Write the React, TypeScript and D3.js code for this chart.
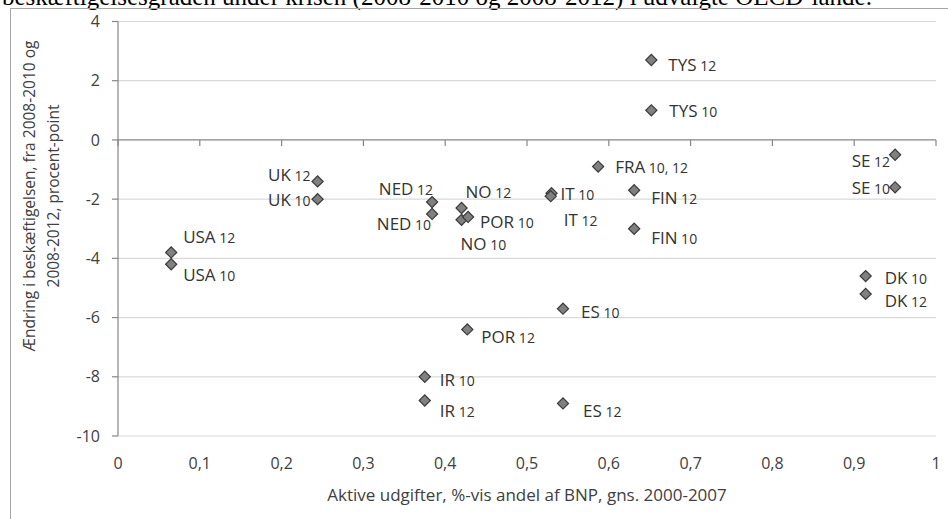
import * as d3 from "d3";

// Points: country, period, active spending (% of GDP), employment change (pct-points)
const pointNames = ["USA", "USA", "UK", "UK", "NED", "NED", "NO", "NO", "POR", "POR", "IR", "IR", "IT", "IT", "FRA", "FIN", "FIN", "TYS", "TYS", "ES", "ES", "SE", "SE", "DK", "DK"];
const pointPeriods = ["10", "12", "10", "12", "10", "12", "10", "12", "10", "12", "10", "12", "10", "12", "10, 12", "12", "10", "10", "12", "10", "12", "12", "10", "10", "12"];
const spendingShare = [0.065, 0.065, 0.244, 0.244, 0.384, 0.384, 0.42, 0.42, 0.428, 0.427, 0.375, 0.375, 0.53, 0.529, 0.587, 0.631, 0.631, 0.652, 0.652, 0.544, 0.544, 0.95, 0.95, 0.914, 0.914];
const employmentChange = [-4.2, -3.8, -2.0, -1.4, -2.5, -2.1, -2.7, -2.3, -2.6, -6.4, -8.0, -8.8, -1.8, -1.9, -0.9, -1.7, -3.0, 1.0, 2.7, -5.7, -8.9, -0.5, -1.6, -4.6, -5.2];

const xTicks = [0, 0.1, 0.2, 0.3, 0.4, 0.5, 0.6, 0.7, 0.8, 0.9, 1];
const yTicks = [4, 2, 0, -2, -4, -6, -8, -10];

const headerText = "beskæftigelsesgraden under krisen (2008-2010 og 2008-2012) i udvalgte OECD-lande.";
const xTitle = "Aktive udgifter, %-vis andel af BNP, gns. 2000-2007";
const yTitleLines = ["Ændring i beskæftigelsen, fra 2008-2010 og", "2008-2012, procent-point"];

// label placement relative to each marker (px), same order as the points
const labelDx = [12, 12, -7, -7, -1, 1, -1, 4, 12, 14, 15, 15, 9, 13, 17, 17, 17, 18, 17, 18, 20, -5, -5, 19, 19];
const labelDy = [11, -15, 1, -6, 10, -13, 24, -16, 5, 8, 3, 11, 1, 24, 0, 8, 9, 1, 5, 3, 8, 6, 1, 2, 7];
const labelEnd = [false, false, true, true, true, true, false, false, false, false, false, false, false, false, false, false, false, false, false, false, false, true, true, false, false];

const width = 948;
const height = 519;
const plot = { left: 118, right: 936, top: 21.5, bottom: 436 };
const font = "'Open Sans', Lato, sans-serif";

const locale = d3.formatLocale({
  decimal: ",",
  thousands: ".",
  grouping: [3],
  currency: ["", " kr"],
  minus: "-"
});
const fmt = locale.format("~g");

function App() {
  const x = d3.scaleLinear().domain([0, 1]).range([plot.left, plot.right]);
  const y = d3.scaleLinear().domain([-10, 4]).range([plot.bottom, plot.top]);
  const diamond = d3.symbol(d3.symbolSquare, 62)() ?? "";
  const y0 = y(0);

  return (
    <div style={{ position: "absolute", left: 0, top: 0 }}>
      <svg width={width} height={height} style={{ display: "block", background: "#fff" }}>
        <text x={2} y={5} fontFamily="'Liberation Serif', serif" fontSize={25} fill="#000">
          {headerText}
        </text>
        <rect x={10.5} y={8.5} width={1000} height={600} fill="none" stroke="#a6a6a6" strokeWidth={1} />

        {yTicks.filter((t) => t !== 0).map((t) => (
          <line key={`g${t}`} x1={plot.left} x2={plot.right} y1={y(t)} y2={y(t)} stroke="#d9d9d9" strokeWidth={1.2} />
        ))}

        {/* y axis */}
        <line x1={plot.left} x2={plot.left} y1={plot.top} y2={plot.bottom} stroke="#868686" strokeWidth={1.2} />
        {yTicks.map((t) => (
          <g key={`yt${t}`}>
            <line x1={plot.left - 6} x2={plot.left} y1={y(t)} y2={y(t)} stroke="#868686" strokeWidth={1.2} />
            <text x={100} y={y(t)} dy="0.35em" textAnchor="end" fontFamily={font} fontSize={16} fill="#404040">
              {fmt(t)}
            </text>
          </g>
        ))}

        {/* x axis sits at y = 0, labels at the bottom */}
        <line x1={plot.left} x2={plot.right} y1={y0} y2={y0} stroke="#868686" strokeWidth={1.2} />
        {xTicks.map((t) => (
          <g key={`xt${t}`}>
            <line x1={x(t)} x2={x(t)} y1={y0} y2={y0 + 6} stroke="#868686" strokeWidth={1.2} />
            <text x={x(t)} y={463} dy="0.35em" textAnchor="middle" fontFamily={font} fontSize={16} fill="#404040">
              {fmt(t)}
            </text>
          </g>
        ))}

        <text x={527} y={495} dy="0.35em" textAnchor="middle" fontFamily={font} fontSize={17} fill="#404040">
          {xTitle}
        </text>
        {yTitleLines.map((line, i) => (
          <text
            key={line}
            transform={`translate(${30 + i * 24}, 196) rotate(-90)`}
            dy="0.35em"
            textAnchor="middle"
            fontFamily={font}
            fontSize={15.5}
            fill="#404040"
          >
            {line}
          </text>
        ))}

        {spendingShare.map((v, i) => {
          const px = x(v);
          const py = y(employmentChange[i]);
          return (
            <g key={`p${i}`}>
              <path d={diamond} transform={`translate(${px}, ${py}) rotate(45)`} fill="#808080" stroke="#3a3a3a" strokeWidth={1.2} />
              <text
                x={px + labelDx[i]}
                y={py + labelDy[i] + 6}
                textAnchor={labelEnd[i] ? "end" : "start"}
                fontFamily={font}
                fontSize={17}
                fill="#333"
              >
                {pointNames[i]}
                <tspan fontSize={14}>{` ${pointPeriods[i]}`}</tspan>
              </text>
            </g>
          );
        })}
      </svg>
    </div>
  );
}

export default App;
